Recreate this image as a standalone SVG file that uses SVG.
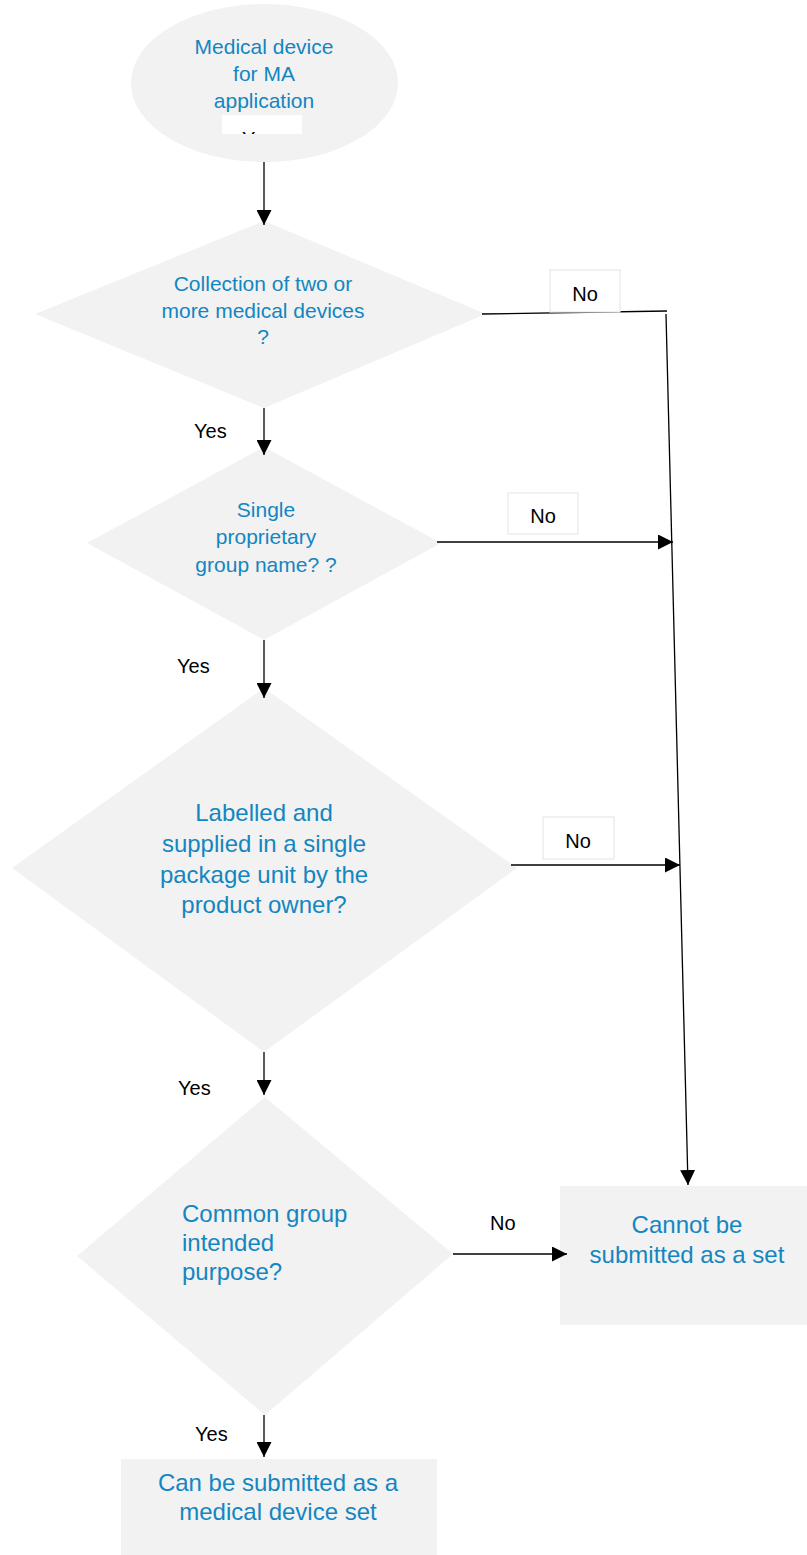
<svg xmlns="http://www.w3.org/2000/svg" width="807" height="1555" viewBox="0 0 807 1555">
  <style>
    .shape { fill: #f2f2f2; stroke: none; }
    .blue { fill: #1386c1; font-family: "Liberation Sans", Arial, sans-serif; }
    .s21 { font-size: 21px; }
    .s24 { font-size: 24px; }
    .mid { text-anchor: middle; }
    .lbl { fill: #000; font-family: "Liberation Sans", Arial, sans-serif; font-size: 20px; }
    .lblbox { fill: #fff; stroke: #e8e8e8; stroke-width: 1.2; }
    .wire { fill: none; stroke: #000; stroke-width: 1.3; }
  </style>
  <defs>
    <marker id="arrow" markerUnits="userSpaceOnUse" markerWidth="15" markerHeight="15" refX="15" refY="7.5" orient="auto">
      <path d="M0,0 L15,7.5 L0,15 z" fill="#000"/>
    </marker>
    <clipPath id="startLabelClip">
      <rect x="222" y="115" width="80" height="19"/>
    </clipPath>
  </defs>

  <rect width="807" height="1555" fill="#fff"/>

  <!-- start -->
  <g id="start">
    <ellipse class="shape" cx="264.5" cy="83" rx="133.5" ry="79"/>
    <text class="blue s21 mid" x="264" y="54">Medical device</text>
    <text class="blue s21 mid" x="264" y="81">for MA</text>
    <text class="blue s21 mid" x="264" y="108">application</text>
    <rect x="222" y="115" width="80" height="19" fill="#fff"/>
    <text class="lbl" x="242" y="146" clip-path="url(#startLabelClip)">Yes</text>
  </g>

  <!-- decision 1 -->
  <g id="collection">
    <polygon class="shape" points="264,221 486,314 264,408 35,314"/>
    <text class="blue s21 mid" x="263" y="291">Collection of two or</text>
    <text class="blue s21 mid" x="263" y="318">more medical devices</text>
    <text class="blue s21 mid" x="263" y="344">?</text>
  </g>

  <!-- decision 2 -->
  <g id="proprietary">
    <polygon class="shape" points="264,447 441,543 264,640 87,543"/>
    <text class="blue s21 mid" x="266" y="517">Single</text>
    <text class="blue s21 mid" x="266" y="544">proprietary</text>
    <text class="blue s21 mid" x="266" y="572">group name? ?</text>
  </g>

  <!-- decision 3 -->
  <g id="packaging">
    <polygon class="shape" points="264,688 517,868 264,1052 12,868"/>
    <text class="blue s24 mid" x="264" y="821">Labelled and</text>
    <text class="blue s24 mid" x="264" y="852">supplied in a single</text>
    <text class="blue s24 mid" x="264" y="883">package unit by the</text>
    <text class="blue s24 mid" x="264" y="913">product owner?</text>
  </g>

  <!-- decision 4 -->
  <g id="purpose">
    <polygon class="shape" points="265,1097 453,1254 265,1415 77,1256"/>
    <text class="blue s24" x="182" y="1222">Common group</text>
    <text class="blue s24" x="182" y="1251">intended</text>
    <text class="blue s24" x="182" y="1280">purpose?</text>
  </g>

  <!-- outcome: rejected -->
  <g id="cannot">
    <rect class="shape" x="560" y="1186" width="247" height="139"/>
    <text class="blue s24 mid" x="687" y="1233">Cannot be</text>
    <text class="blue s24 mid" x="687" y="1263">submitted as a set</text>
  </g>

  <!-- outcome: accepted -->
  <g id="can">
    <rect class="shape" x="121" y="1459" width="316" height="96"/>
    <text class="blue s24 mid" x="278" y="1491">Can be submitted as a</text>
    <text class="blue s24 mid" x="278" y="1520">medical device set</text>
  </g>

  <!-- connectors -->
  <g id="connectors">
    <line class="wire" x1="264" y1="162" x2="264" y2="225" marker-end="url(#arrow)"/>
    <line class="wire" x1="264" y1="408" x2="264" y2="455" marker-end="url(#arrow)"/>
    <line class="wire" x1="264" y1="640" x2="264" y2="698" marker-end="url(#arrow)"/>
    <line class="wire" x1="264" y1="1052" x2="264" y2="1095" marker-end="url(#arrow)"/>
    <line class="wire" x1="264" y1="1415" x2="264" y2="1457" marker-end="url(#arrow)"/>

    <line class="wire" x1="482" y1="314" x2="667" y2="311"/>
    <line class="wire" x1="666" y1="314" x2="688" y2="1185" marker-end="url(#arrow)"/>
    <line class="wire" x1="437" y1="542" x2="673" y2="542" marker-end="url(#arrow)"/>
    <line class="wire" x1="511" y1="865" x2="680" y2="865" marker-end="url(#arrow)"/>
    <line class="wire" x1="453" y1="1254" x2="567" y2="1254" marker-end="url(#arrow)"/>
  </g>

  <!-- branch labels -->
  <g id="labels">
    <rect class="lblbox" x="550" y="270" width="70" height="42"/>
    <text class="lbl mid" x="585" y="301">No</text>
    <rect class="lblbox" x="508" y="493" width="70" height="41"/>
    <text class="lbl mid" x="543" y="523">No</text>
    <rect class="lblbox" x="543" y="817" width="71" height="42"/>
    <text class="lbl mid" x="578" y="848">No</text>
    <text class="lbl" x="490" y="1230">No</text>

    <text class="lbl" x="194" y="438">Yes</text>
    <text class="lbl" x="177" y="673">Yes</text>
    <text class="lbl" x="178" y="1095">Yes</text>
    <text class="lbl" x="195" y="1441">Yes</text>
  </g>
</svg>
